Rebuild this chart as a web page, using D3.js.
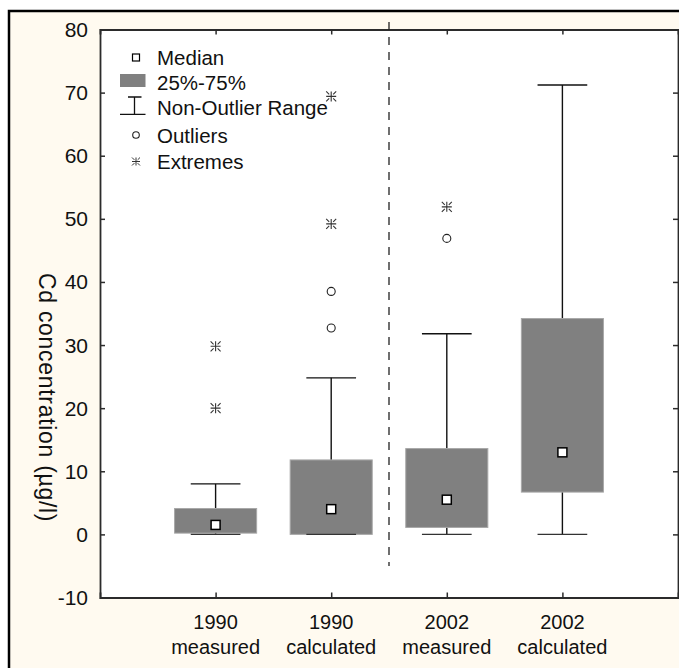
<!DOCTYPE html>
<html>
<head>
<meta charset="utf-8">
<script src="https://cdn.jsdelivr.net/npm/d3@7"></script>
<style>
  html, body { margin: 0; padding: 0; background: #ffffff; }
  svg { display: block; font-family: "Liberation Sans", Arial, Helvetica, sans-serif; }
</style>
</head>
<body>
<svg id="chart" width="679" height="668"></svg>
<script>
// Cd concentration box plots (median, quartiles, non-outlier range, outliers, extremes)
const categoryYears  = ["1990", "1990", "2002", "2002"];
const categoryKinds  = ["measured", "calculated", "measured", "calculated"];
const medians        = [1.5, 4.0, 5.5, 13.0];
const quartile1      = [0.2, 0.0, 1.1, 6.7];
const quartile3      = [4.1, 11.8, 13.6, 34.2];
const whiskerLow     = [0, 0, 0, 0];
const whiskerHigh    = [8.0, 24.8, 31.8, 71.2];
const outlierValues  = [[], [32.7, 38.5], [46.9], []];
const extremeValues  = [[20.0, 29.8], [49.2, 69.4], [51.9], []];
const yTickValues    = [-10, 0, 10, 20, 30, 40, 50, 60, 70, 80];
const legendLabels   = ["Median", "25%-75%", "Non-Outlier Range", "Outliers", "Extremes"];
const yTitle         = "Cd concentration  (\u00b5g/l)";

const svg = d3.select("#chart");
const W = 679, H = 668;
const plot = { left: 100, right: 678, top: 29.5, bottom: 597.5 };

// outer panel
svg.append("rect")
  .attr("x", 9).attr("y", 11).attr("width", W + 20).attr("height", H + 20)
  .attr("fill", "#fffaf0").attr("stroke", "#000").attr("stroke-width", 2.5);

// plot area
svg.append("rect")
  .attr("x", plot.left).attr("y", plot.top)
  .attr("width", plot.right - plot.left).attr("height", plot.bottom - plot.top)
  .attr("fill", "#ffffff");

const x = d3.scaleLinear().domain([0, categoryYears.length + 1]).range([plot.left, plot.right]);
const y = d3.scaleLinear().domain([-10, 80]).range([plot.bottom, plot.top]);
const idx = d3.range(categoryYears.length);
const pos = i => x(i + 1);

const axisColor = "#2b2b2b";

// axes with inward ticks
const gl = svg.append("g").attr("transform", `translate(${plot.left},0)`)
  .call(d3.axisRight(y).tickValues(yTickValues).tickSize(5).tickFormat(""));
const gr = svg.append("g").attr("transform", `translate(${plot.right},0)`)
  .call(d3.axisLeft(y).tickValues(yTickValues).tickSize(5).tickFormat(""));
const gb = svg.append("g").attr("transform", `translate(0,${plot.bottom})`)
  .call(d3.axisTop(x).tickValues(idx.map(i => i + 1)).tickSize(5).tickFormat(""));
const gt = svg.append("g").attr("transform", `translate(0,${plot.top})`)
  .call(d3.axisBottom(x).tickValues(idx.map(i => i + 1)).tickSize(5).tickFormat(""));
[gl, gr, gb, gt].forEach(g => {
  g.select(".domain").attr("stroke", axisColor).attr("stroke-width", 1.8);
  g.selectAll(".tick line").attr("stroke", axisColor).attr("stroke-width", 1.5);
});

// y tick labels
svg.append("g").selectAll("text").data(yTickValues).join("text")
  .attr("x", 88).attr("y", d => y(d) + 7.5)
  .attr("text-anchor", "end").attr("font-size", 21).attr("fill", "#111")
  .text(d => d);

// category labels
const cat = svg.append("g").selectAll("g").data(idx).join("g");
cat.append("text").attr("x", pos).attr("y", 628.5)
  .attr("text-anchor", "middle").attr("font-size", 20).attr("fill", "#111")
  .text(i => categoryYears[i]);
cat.append("text").attr("x", pos).attr("y", 653.5)
  .attr("text-anchor", "middle").attr("font-size", 20).attr("fill", "#111")
  .text(i => categoryKinds[i]);

// y title
svg.append("text")
  .attr("transform", `translate(39,273) rotate(90)`)
  .attr("font-size", 23).attr("letter-spacing", 0.7).attr("fill", "#111")
  .text(yTitle);

// divider between years
svg.append("line")
  .attr("x1", x(2.5)).attr("x2", x(2.5))
  .attr("y1", 22).attr("y2", y(-5))
  .attr("stroke", "#222").attr("stroke-width", 1.3)
  .attr("stroke-dasharray", "8,7");

const boxHalf = 0.355 * (x(1) - x(0));
const capHalf = 0.215 * (x(1) - x(0));

const boxes = svg.append("g");
// whiskers
boxes.selectAll("line.wv").data(idx).join("line").attr("class", "wv")
  .attr("x1", pos).attr("x2", pos)
  .attr("y1", i => y(whiskerLow[i])).attr("y2", i => y(whiskerHigh[i]))
  .attr("stroke", "#111").attr("stroke-width", 1.4);
boxes.selectAll("line.wh").data(idx).join("line").attr("class", "wh")
  .attr("x1", i => pos(i) - capHalf).attr("x2", i => pos(i) + capHalf)
  .attr("y1", i => y(whiskerHigh[i])).attr("y2", i => y(whiskerHigh[i]))
  .attr("stroke", "#111").attr("stroke-width", 1.4);
// interquartile boxes
boxes.selectAll("rect.box").data(idx).join("rect").attr("class", "box")
  .attr("x", i => pos(i) - boxHalf).attr("width", 2 * boxHalf)
  .attr("y", i => y(quartile3[i])).attr("height", i => y(quartile1[i]) - y(quartile3[i]))
  .attr("fill", "#808080").attr("stroke", "#a8a8a8").attr("stroke-width", 1);
boxes.selectAll("line.wl").data(idx).join("line").attr("class", "wl")
  .attr("x1", i => pos(i) - capHalf).attr("x2", i => pos(i) + capHalf)
  .attr("y1", i => y(whiskerLow[i])).attr("y2", i => y(whiskerLow[i]))
  .attr("stroke", "#333").attr("stroke-width", 1.4);
// medians
boxes.selectAll("rect.med").data(idx).join("rect").attr("class", "med")
  .attr("x", i => pos(i) - 4.5).attr("y", i => y(medians[i]) - 4.5)
  .attr("width", 9).attr("height", 9)
  .attr("fill", "#fff").attr("stroke", "#000").attr("stroke-width", 1.5);

// asterisk glyph for extremes
function asterisk(cx, cy, r) {
  const d = r * 0.6;
  return `M${cx - r},${cy}H${cx + r}M${cx},${cy - r}V${cy + r}` +
         `M${cx - r},${cy - r}L${cx - r + d},${cy - r + d}` +
         `M${cx + r},${cy - r}L${cx + r - d},${cy - r + d}` +
         `M${cx - r},${cy + r}L${cx - r + d},${cy + r - d}` +
         `M${cx + r},${cy + r}L${cx + r - d},${cy + r - d}`;
}

const outPts = idx.flatMap(i => outlierValues[i].map(v => ({ i, v })));
const extPts = idx.flatMap(i => extremeValues[i].map(v => ({ i, v })));
boxes.selectAll("circle.out").data(outPts).join("circle").attr("class", "out")
  .attr("cx", d => pos(d.i)).attr("cy", d => y(d.v)).attr("r", 4)
  .attr("fill", "#fff").attr("stroke", "#222").attr("stroke-width", 1.1);
boxes.selectAll("path.ext").data(extPts).join("path").attr("class", "ext")
  .attr("d", d => asterisk(pos(d.i), y(d.v), 5))
  .attr("fill", "none").attr("stroke", "#333").attr("stroke-width", 1.1);

// legend
const lg = svg.append("g");
const lgX = 136, lgText = 157;
const lgBase = [65, 90, 115, 142.5, 168.5];
lg.selectAll("text").data(legendLabels).join("text")
  .attr("x", lgText).attr("y", (d, i) => lgBase[i])
  .attr("font-size", 20.5).attr("fill", "#111").text(d => d);
lg.append("rect").attr("x", lgX - 3.5).attr("y", 54).attr("width", 7).attr("height", 7)
  .attr("fill", "#fff").attr("stroke", "#000").attr("stroke-width", 1.2);
lg.append("rect").attr("x", 120).attr("y", 74).attr("width", 25.5).attr("height", 13)
  .attr("fill", "#808080");
lg.append("path")
  .attr("d", `M128,97H141.5M134.5,97V114.3M120,114.3H145.5`)
  .attr("fill", "none").attr("stroke", "#111").attr("stroke-width", 1.3);
lg.append("circle").attr("cx", lgX).attr("cy", 135).attr("r", 3.3)
  .attr("fill", "#fff").attr("stroke", "#222").attr("stroke-width", 1.1);
lg.append("path").attr("d", asterisk(lgX, 161.5, 4))
  .attr("fill", "none").attr("stroke", "#333").attr("stroke-width", 1);
</script>
</body>
</html>
